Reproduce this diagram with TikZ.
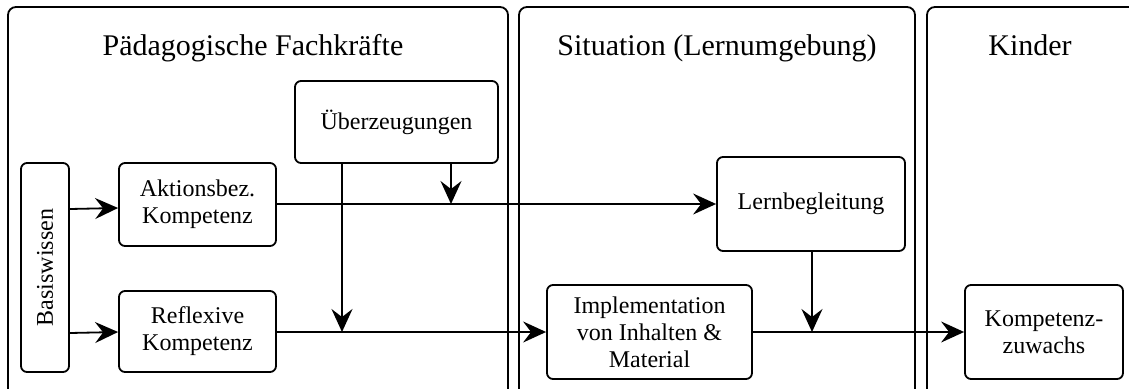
\documentclass[tikz,border=0pt]{standalone}
\usepackage{fontspec}
\setmainfont{Liberation Serif}
\usetikzlibrary{arrows.meta}
\begin{document}
\begin{tikzpicture}[x=1pt,y=-1pt,
  panel/.style={draw=black,line width=1.8pt,rounded corners=8pt},
  box/.style={draw=black,line width=1.8pt,rounded corners=6pt,align=center,
    inner sep=0pt,font=\fontsize{24}{27}\selectfont},
  paneltitle/.style={anchor=base,font=\fontsize{30}{34}\selectfont},
  link/.style={line width=1.8pt},
  flow/.style={link,-{Stealth[length=23pt,width=21pt,inset=8pt]}}]
  \useasboundingbox (0,0) rectangle (1129,388);
  \clip (0,0) rectangle (1129,388);

  % three columns of the model
  \draw[panel] (8,7) rectangle (508,400);
  \draw[panel] (519,7) rectangle (915,400);
  \draw[panel] (927,7) rectangle (1145,400);
  \node[paneltitle] (t1) at (253,55) {Pädagogische Fachkräfte};
  \node[paneltitle] (t2) at (717,55) {Situation (Lernumgebung)};
  \node[paneltitle] (t3) at (1030,55) {Kinder};

  % boxes
  \node[box,minimum width=48pt,minimum height=209pt] (basis) at (45,267.5) {};
  \node[rotate=90,font=\fontsize{24}{27}\selectfont] (basislabel) at (basis.center) {Basiswissen};
  \node[box,minimum width=157pt,minimum height=83pt] (aktion) at (197.5,204.5) {Aktionsbez.\\Kompetenz};
  \node[box,minimum width=157pt,minimum height=81pt] (reflex) at (197.5,331.5) {Reflexive\\Kompetenz};
  \node[box,minimum width=203pt,minimum height=82pt] (ueber) at (396.5,122) {Überzeugungen};
  \node[box,minimum width=188pt,minimum height=94pt] (lern) at (811,204) {Lernbegleitung};
  \node[box,minimum width=205pt,minimum height=94pt] (impl) at (649.5,332) {Implementation\\von Inhalten \&\\Material};
  \node[box,minimum width=158pt,minimum height=94pt] (komp) at (1044,332) {Kompetenz-\\zuwachs};

  % junction points on the two main lines
  \coordinate (j1) at (451,204);
  \coordinate (j2) at (342,332);
  \coordinate (j3) at (812,332);

  % connectors
  \draw[flow] (basis.east |- 0,209) -- (aktion.west |- 0,208);
  \draw[flow] (basis.east |- 0,333) -- (reflex.west |- 0,332);
  \draw[flow] (aktion.east |- j1) -- (lern.west |- j1);
  \draw[flow] (reflex.east |- j2) -- (impl.west |- j2);
  \draw[flow] (impl.east |- j3) -- (komp.west |- j3);
  \draw[flow] (ueber.south -| j1) -- (j1);
  \draw[flow] (ueber.south -| j2) -- (j2);
  \draw[flow] (lern.south -| j3) -- (j3);
\end{tikzpicture}
\end{document}
